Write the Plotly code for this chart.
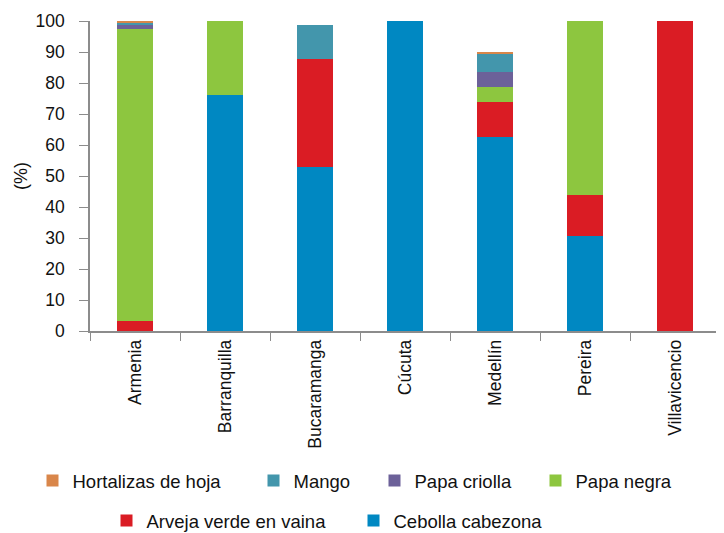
import plotly.graph_objects as go

cities = ["Armenia", "Barranquilla", "Bucaramanga", "Cúcuta", "Medellín", "Pereira", "Villavicencio"]

cebolla = [0, 76.0, 53.0, 100, 62.6, 30.6, 0]
arveja = [3.3, 0, 34.6, 0, 11.4, 13.3, 100]
papa_negra = [94.2, 24.0, 0, 0, 4.6, 56.1, 0]
papa_criolla = [1.5, 0, 0, 0, 5.0, 0, 0]
mango = [0.3, 0, 11.0, 0, 5.8, 0, 0]
hortalizas = [0.7, 0, 0, 0, 0.7, 0, 0]

# bottom of the stack first; each series gets its own legend so the
# entries can sit where the original puts them (px of swatch centre, row)
series = [
    ("Cebolla cabezona", cebolla, "#0088C2", 373, 2),
    ("Arveja verde en vaina", arveja, "#DA1C24", 126, 2),
    ("Papa negra", papa_negra, "#8DC63F", 555, 1),
    ("Papa criolla", papa_criolla, "#6C6199", 394, 1),
    ("Mango", mango, "#4396AC", 273, 1),
    ("Hortalizas de hoja", hortalizas, "#D9864A", 52, 1),
]

# page body has an 8px margin, so the figure is drawn 8px in from the corner
OFF = 8
W, H = 724 - OFF, 533 - OFF
L, R, T = 90 - OFF, 4, 21 - OFF
ph = 310
B = H - T - ph
pw = W - L - R

font = dict(family="Liberation Sans, Arial, sans-serif", size=17.5, color="#111111")
leg_font = dict(family="Liberation Sans, Arial, sans-serif", size=18.5, color="#111111")
axis_gray = "#8C8C8C"
row_y = {1: 481, 2: 521}

fig = go.Figure()
legends = {}
for i, (name, vals, color, cx, row) in enumerate(series):
    key = "legend" if i == 0 else f"legend{i + 1}"
    fig.add_trace(go.Bar(
        x=cities, y=vals, name=name, legend=key, showlegend=True,
        marker=dict(color=color, line=dict(width=0)),
    ))
    left = cx - OFF - 19.5
    legends[key] = dict(
        orientation="h",
        x=(left - L) / pw, xanchor="left",
        y=(T + ph - (row_y[row] - OFF)) / ph, yanchor="middle",
        font=leg_font, itemwidth=30, bgcolor="rgba(0,0,0,0)",
    )

fig.update_layout(
    barmode="stack",
    bargap=0.6,
    showlegend=True,
    width=W, height=H,
    margin=dict(l=L, r=R, t=T, b=B, autoexpand=False),
    paper_bgcolor="white",
    plot_bgcolor="white",
    font=font,
    xaxis=dict(
        showline=True, linecolor=axis_gray, linewidth=1.5,
        ticks="outside", tickson="boundaries", ticklen=8, tickcolor=axis_gray,
        tickangle=-90, showgrid=False, automargin=False,
    ),
    yaxis=dict(
        range=[0, 100], dtick=10,
        showline=True, linecolor=axis_gray, linewidth=1.5,
        ticks="outside", ticklen=9, tickcolor=axis_gray,
        ticklabelstandoff=11,
        showgrid=False, zeroline=False, automargin=False,
        title=dict(text="(%)", standoff=3, font=dict(size=18)),
    ),
    **legends,
)

fig.write_html("out.html")
